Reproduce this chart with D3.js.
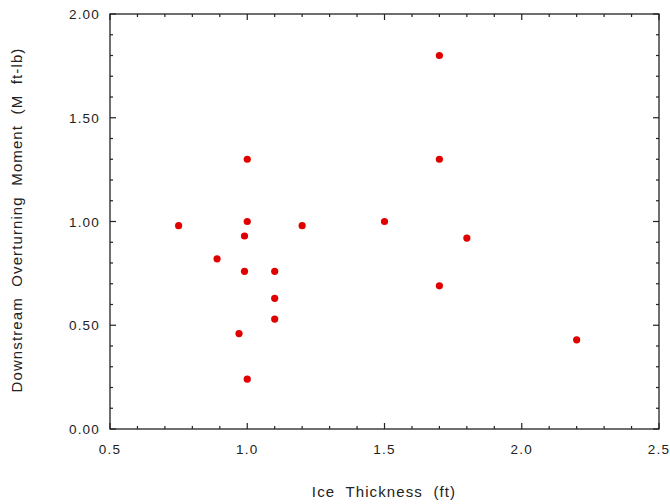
<!DOCTYPE html>
<html>
<head>
<meta charset="utf-8">
<script src="https://cdn.jsdelivr.net/npm/d3@7"></script>
<style>
html,body{margin:0;padding:0;background:#fff;}
svg{display:block;font-family:"Liberation Sans",Arial,sans-serif;}
text{white-space:pre;}
</style>
</head>
<body>
<svg id="chart" width="670" height="504"></svg>
<script>
const iceThickness = [0.75, 0.89, 0.97, 0.99, 0.99, 1.0, 1.0, 1.0, 1.1, 1.1, 1.1, 1.2, 1.5, 1.7, 1.7, 1.7, 1.8, 2.2];
const overturningMoment = [0.98, 0.82, 0.46, 0.93, 0.76, 1.30, 1.00, 0.24, 0.76, 0.63, 0.53, 0.98, 1.00, 1.80, 1.30, 0.69, 0.92, 0.43];
const xTickValues = [0.5, 1.0, 1.5, 2.0, 2.5];
const xTickLabels = ["0.5", "1.0", "1.5", "2.0", "2.5"];
const yTickValues = [0, 0.5, 1.0, 1.5, 2.0];
const yTickLabels = ["0.00", "0.50", "1.00", "1.50", "2.00"];
const xTitle = "Ice  Thickness  (ft)";
const yTitle = "Downstream  Overturning  Moment  (M  ft-lb)";

const svg = d3.select("#chart");
const L = 110, R = 659, T = 14, B = 429;
const x = d3.scaleLinear().domain([0.5, 2.5]).range([L, R]);
const y = d3.scaleLinear().domain([0, 2]).range([B, T]);

const isMajor = v => Math.abs(v*2 - Math.round(v*2)) < 1e-6;
const xMinor = d3.range(6, 25).map(d => d/10).filter(v => !isMajor(v));
const yMinor = d3.range(1, 20).map(d => d/10).filter(v => !isMajor(v));

const g = svg.append("g");
const stroke = "#222";
g.append("rect").attr("x", L).attr("y", T).attr("width", R-L).attr("height", B-T)
  .attr("fill", "none").attr("stroke", stroke).attr("stroke-width", 1.3);

const majLen = 6, minLen = 3;
function xt(vals, len){
  vals.forEach(v => {
    g.append("line").attr("x1", x(v)).attr("x2", x(v)).attr("y1", B).attr("y2", B-len).attr("stroke", stroke).attr("stroke-width", 1.2);
    g.append("line").attr("x1", x(v)).attr("x2", x(v)).attr("y1", T).attr("y2", T+len).attr("stroke", stroke).attr("stroke-width", 1.2);
  });
}
function yt(vals, len){
  vals.forEach(v => {
    g.append("line").attr("y1", y(v)).attr("y2", y(v)).attr("x1", L).attr("x2", L+len).attr("stroke", stroke).attr("stroke-width", 1.2);
    g.append("line").attr("y1", y(v)).attr("y2", y(v)).attr("x1", R).attr("x2", R-len).attr("stroke", stroke).attr("stroke-width", 1.2);
  });
}
xt(xTickValues, majLen); xt(xMinor, minLen);
yt(yTickValues, majLen); yt(yMinor, minLen);

g.selectAll(".xl").data(xTickValues).join("text")
  .attr("x", d => x(d)).attr("y", B+25).attr("text-anchor", "middle")
  .attr("font-size", 13.5).attr("letter-spacing", 1.2).attr("fill", "#222")
  .text((d, i) => xTickLabels[i]);
g.selectAll(".yl").data(yTickValues).join("text")
  .attr("x", L-10).attr("y", d => y(d)+5).attr("text-anchor", "end")
  .attr("font-size", 13.5).attr("letter-spacing", 1.2).attr("fill", "#222")
  .text((d, i) => yTickLabels[i]);

svg.append("text").attr("x", 384).attr("y", 497).attr("text-anchor", "middle")
  .attr("font-size", 15).attr("letter-spacing", 1.1).attr("fill", "#222").text(xTitle);
svg.append("text").attr("transform", `translate(22,220) rotate(-90)`).attr("text-anchor", "middle")
  .attr("font-size", 15).attr("letter-spacing", 1.1).attr("fill", "#222").text(yTitle);

svg.append("g").selectAll("circle").data(iceThickness).join("circle")
  .attr("cx", d => x(d)).attr("cy", (d, i) => y(overturningMoment[i])).attr("r", 3.6).attr("fill", "#e00000");
</script>
</body>
</html>
